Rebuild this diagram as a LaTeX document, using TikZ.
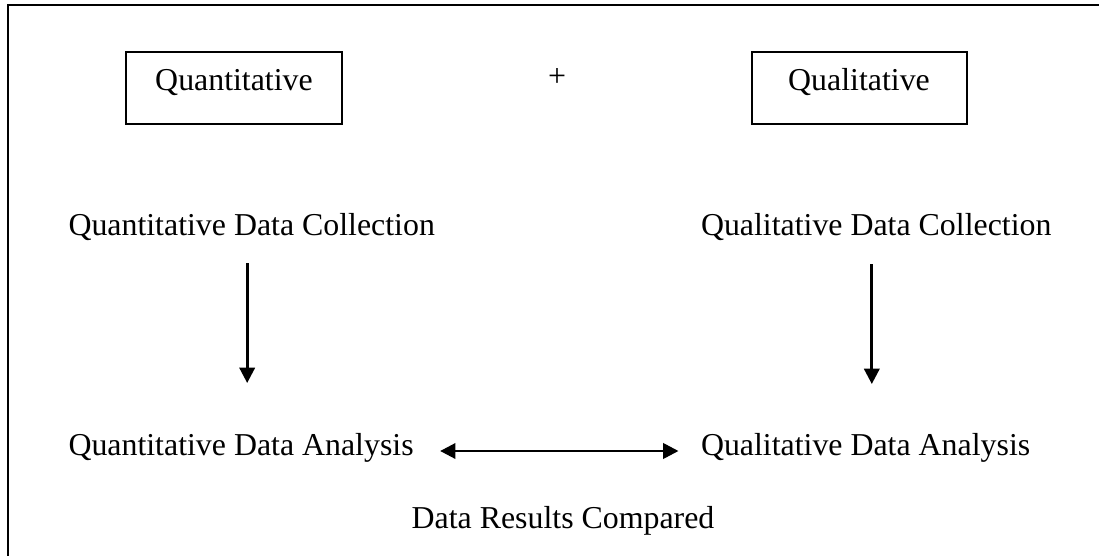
\documentclass[tikz,border=0pt]{standalone}
\usepackage{fontspec}
\setmainfont{Liberation Serif}
\usetikzlibrary{arrows.meta,calc}

\tikzset{every picture/.style={line width=0.75pt}}
\tikzset{
  txt/.style={font=\fontsize{23.9pt}{28pt}\selectfont, inner sep=0.75pt, anchor=base west},
  headbox/.style={line width=1.5pt},
  flowarrow/.style={line width=2pt, -{Triangle[length=11.5pt,width=11.5pt]}},
  bothway/.style={line width=2pt, {Triangle[length=11.5pt,width=11.5pt]}-{Triangle[length=11.5pt,width=11.5pt]}}
}

\begin{document}
\begin{tikzpicture}[x=0.75pt,y=0.75pt,yscale=-1,xscale=1]
\useasboundingbox (0,0) rectangle (1099,556);
\clip (0,0) rectangle (1099,556);

%Shape: Rectangle (frame, cut at right and bottom)
\draw [line width=1.5pt] (8,5) rectangle (1120,580) ;

% Text Node
\node [txt, anchor=base] (qnHead) at (234,91) {Quantitative};
% Text Node
\node [txt, anchor=base] (qlHead) at (859,91) {Qualitative};
% Text Node
\node [txt, anchor=center] (plusSign) at (557,77) {+};

%Shape: Rectangle
\draw [headbox] ($(qnHead.base)+(-108,-39)$) rectangle ++(216,72) ;
%Shape: Rectangle
\draw [headbox] ($(qlHead.base)+(-107,-39)$) rectangle ++(215,72) ;

% Text Node
\node [txt] (qnColl) at (67,235) {Quantitative Data Collection};
% Text Node
\node [txt] (qlColl) at (699.5,235) {Qualitative Data Collection};
% Text Node
\node [txt] (qnAna) at (67,455) {Quantitative Data Analysis};
% Text Node
\node [txt] (qlAna) at (699.5,455) {Qualitative Data Analysis};
% Text Node
\node [txt, anchor=base] (compared) at (563,528) {Data Results Compared};

%Straight Lines
\draw [flowarrow] ($(qnColl.base)+(-4.5,28)$) -- ++(0,120) ;
%Straight Lines
\draw [flowarrow] ($(qlColl.base)+(-4.4,29)$) -- ++(0,120) ;
%Straight Lines
\draw [bothway] ($(qnAna.base east)+(25,-4)$) -- ($(qlAna.base west)+(-21,-4)$) ;

\end{tikzpicture}
\end{document}
